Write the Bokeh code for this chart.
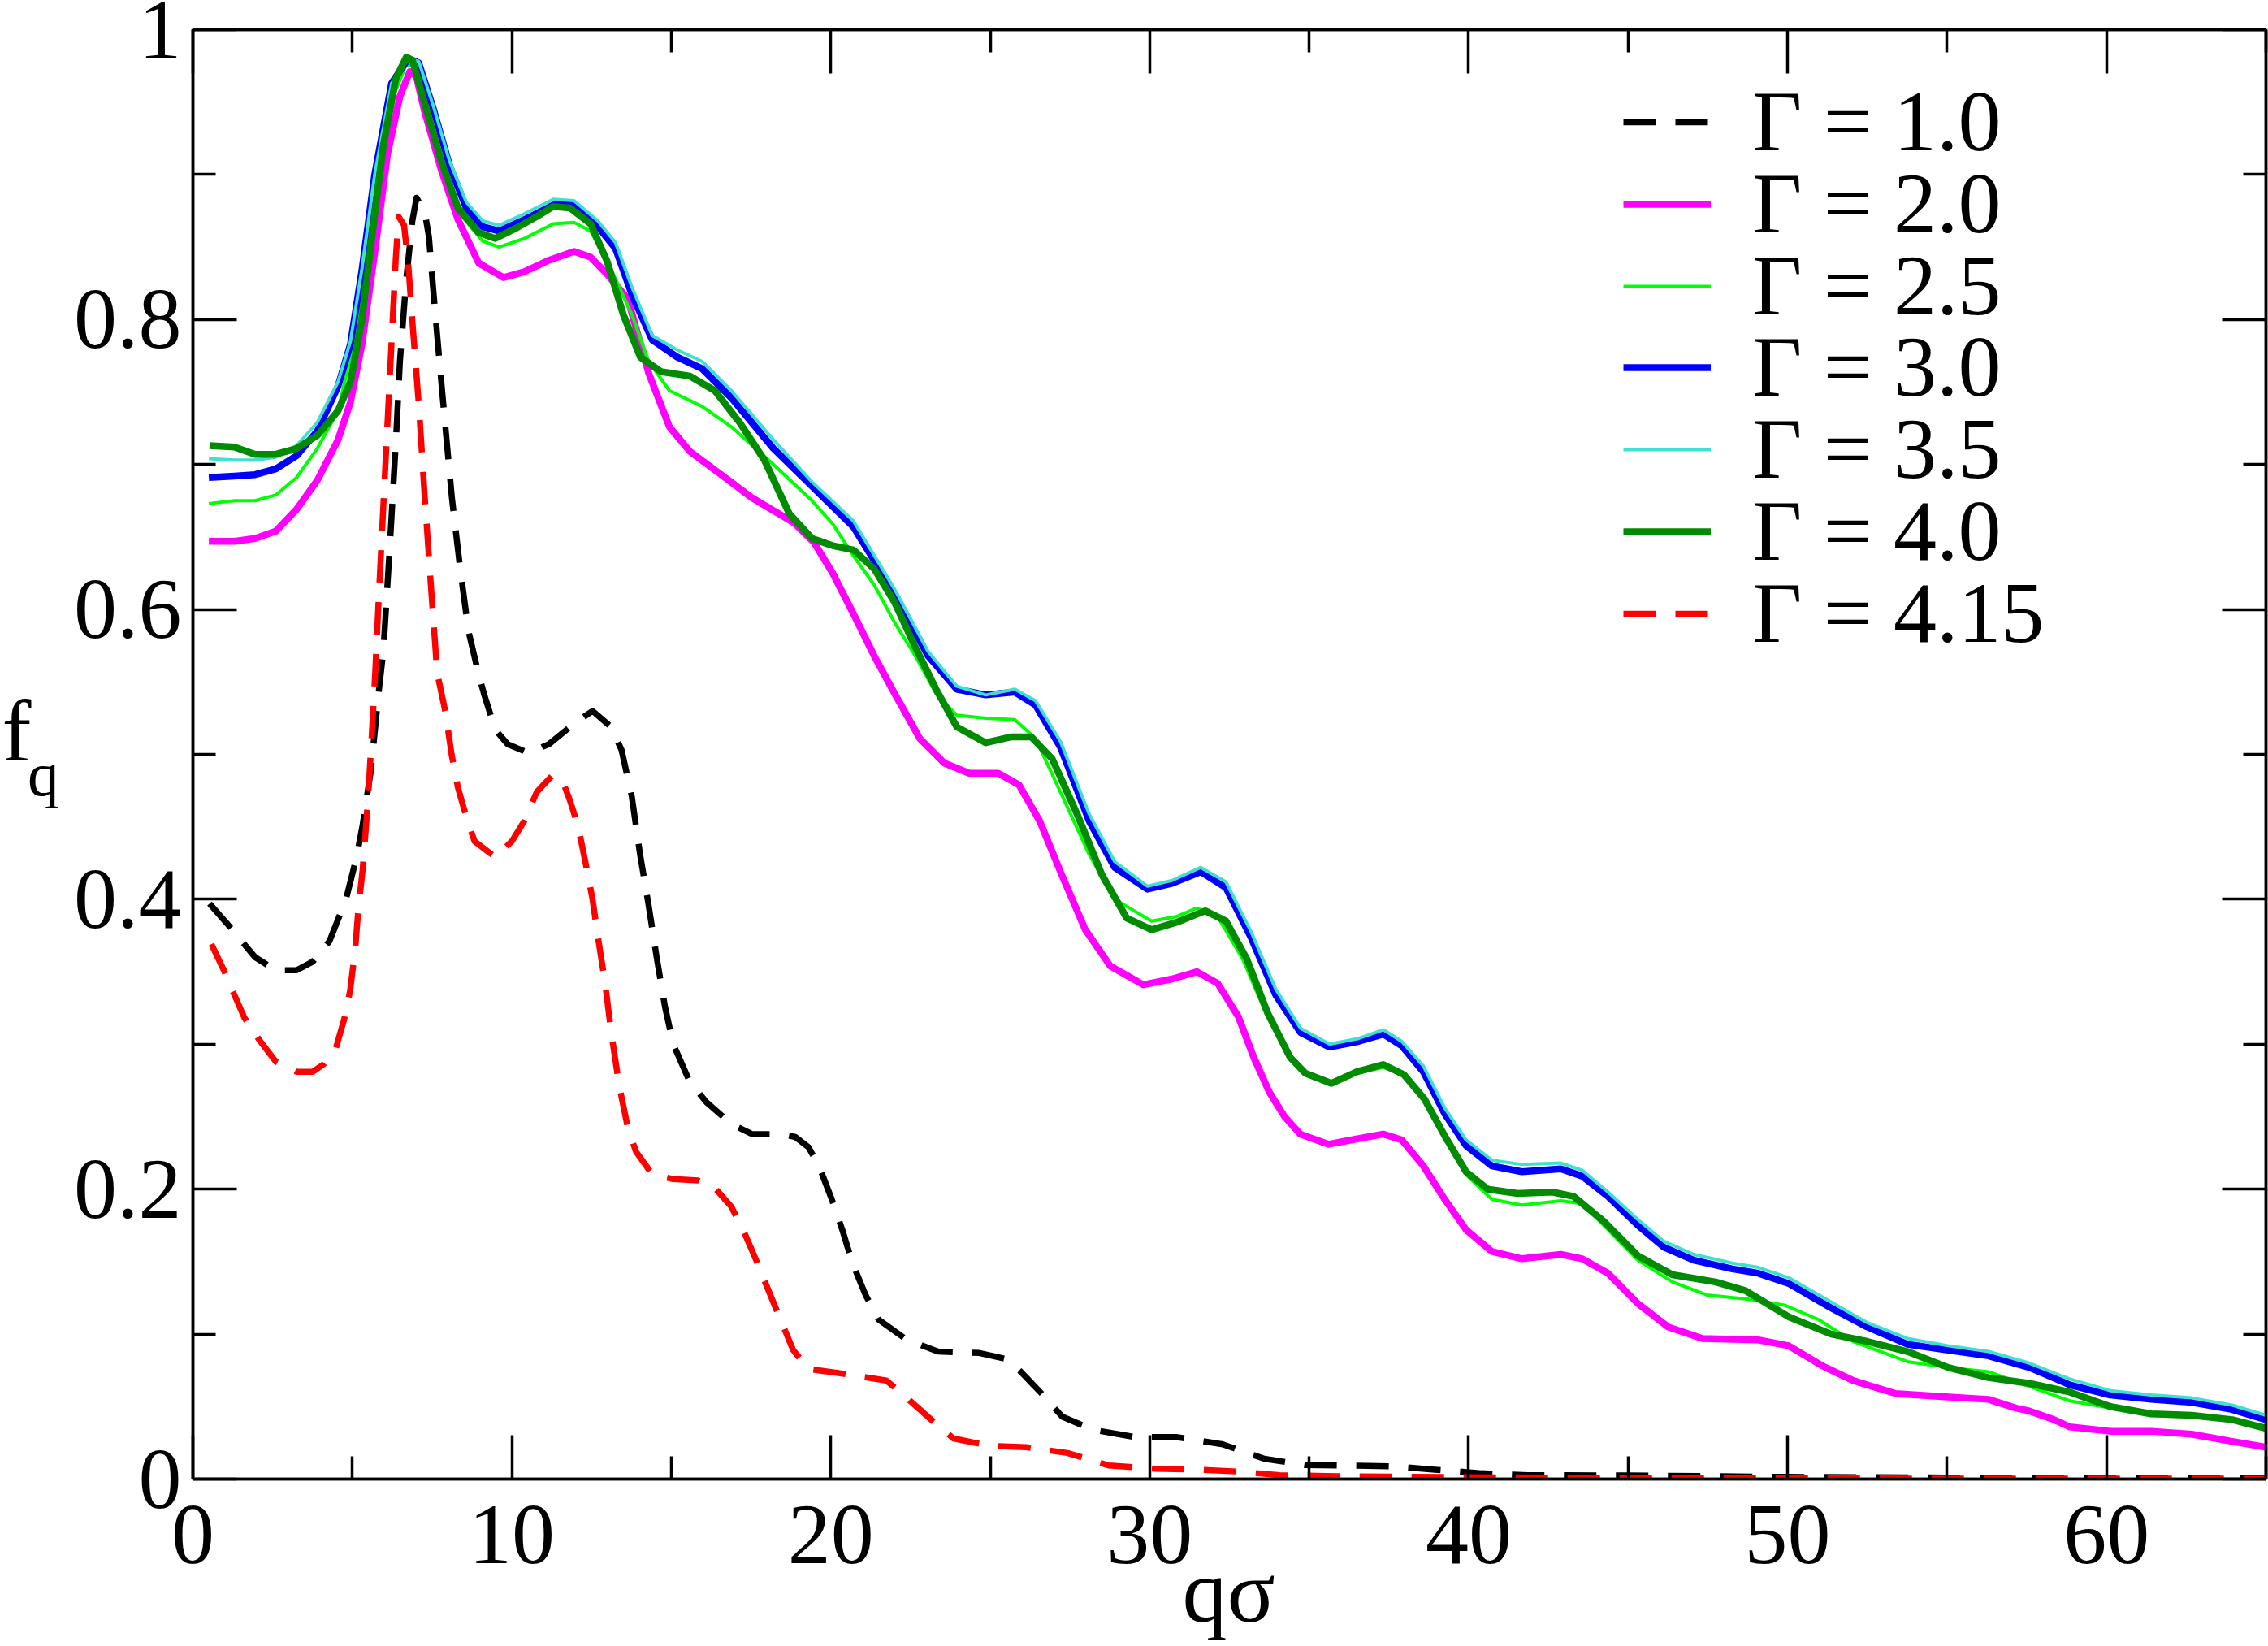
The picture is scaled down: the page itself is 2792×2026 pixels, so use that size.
from bokeh.plotting import figure
from bokeh.models import (Range1d, LinearAxis, FixedTicker, CustomJSTickFormatter,
                          Label, Legend, LegendItem)
from bokeh.embed import file_html
from bokeh.resources import INLINE

# ---------------- data ----------------
q_g10 = [0.52, 1.04, 1.95, 2.6, 3.25, 3.76, 4.28, 4.8, 5.13, 5.32, 5.58, 5.84, 5.97, 6.17, 6.36,
         6.49, 6.69, 6.88, 7.01, 7.27, 7.4, 7.53, 7.73, 7.92, 8.12, 8.38, 8.64, 8.96, 9.15, 9.48,
         9.87, 10.52, 11.16, 11.94, 12.53, 13.11, 13.44, 13.76, 14.02, 14.28, 14.54, 14.8, 15.06,
         15.58, 16.1, 16.88, 17.53, 18.43, 18.89, 19.3, 19.63, 20.03, 20.36, 20.68, 21.09, 21.5,
         22.39, 23.36, 24.66, 25.47, 25.96, 26.61, 27.26, 28.23, 29.53, 30.83, 32.29, 33.59,
         34.88, 36.34, 37.64, 38.94, 40.4, 41.86, 45.0, 50.0, 55.0, 60.0, 65.0]
f_g10 = [0.397, 0.384, 0.36, 0.351, 0.351, 0.357, 0.371, 0.40, 0.429, 0.451, 0.489, 0.546, 0.571,
         0.642, 0.714, 0.771, 0.828, 0.868, 0.884, 0.874, 0.857, 0.822, 0.771, 0.725, 0.677, 0.628,
         0.585, 0.555, 0.54, 0.517, 0.507, 0.501, 0.507, 0.521, 0.53, 0.519, 0.503, 0.471, 0.431,
         0.397, 0.36, 0.326, 0.30, 0.274, 0.26, 0.245, 0.238, 0.238, 0.236, 0.229, 0.216, 0.193,
         0.172, 0.149, 0.127, 0.11, 0.096, 0.088, 0.087, 0.083, 0.074, 0.059, 0.043, 0.034, 0.029,
         0.029, 0.024, 0.014, 0.0097, 0.0093, 0.0088, 0.0065, 0.004, 0.0027, 0.0025, 0.0015,
         0.001, 0.0008, 0.0005]

q_g20 = [0.5, 1.3, 1.95, 2.6, 3.25, 3.9, 4.55, 4.94, 5.3, 5.7, 6.1, 6.49, 6.8, 7.0, 7.27, 7.79,
         8.31, 8.96, 9.74, 10.4, 11.17, 11.95, 12.47, 13.0, 13.64, 14.29, 14.94, 15.58, 16.5,
         17.53, 18.83, 19.48, 20.06, 20.71, 21.36, 22.0, 22.79, 23.56, 24.34, 25.25, 25.9, 26.55,
         27.2, 27.98, 28.76, 29.8, 30.7, 31.48, 32.13, 32.78, 33.26, 33.75, 34.23, 34.72, 35.61,
         36.34, 37.32, 37.9, 38.58, 39.25, 39.92, 40.73, 41.67, 42.89, 43.56, 44.37, 45.31, 46.25,
         47.33, 49.08, 50.03, 51.1, 52.05, 53.39, 54.74, 56.3, 57.16, 57.58, 58.35, 58.85, 60.12,
         61.4, 62.67, 63.94, 65.0]
f_g20 = [0.647, 0.647, 0.649, 0.654, 0.669, 0.689, 0.717, 0.743, 0.783, 0.846, 0.914, 0.954,
         0.971, 0.968, 0.943, 0.903, 0.869, 0.839, 0.829, 0.833, 0.841, 0.847, 0.843, 0.831,
         0.814, 0.763, 0.726, 0.709, 0.694, 0.677, 0.66, 0.646, 0.625, 0.597, 0.568, 0.542,
         0.511, 0.494, 0.487, 0.487, 0.479, 0.454, 0.419, 0.379, 0.354, 0.341, 0.345, 0.35, 0.342,
         0.319, 0.291, 0.267, 0.25, 0.238, 0.231, 0.234, 0.238, 0.234, 0.216, 0.193, 0.172, 0.157,
         0.152, 0.155, 0.152, 0.142, 0.121, 0.105, 0.097, 0.096, 0.092, 0.078, 0.068, 0.059,
         0.057, 0.055, 0.049, 0.047, 0.041, 0.036, 0.033, 0.033, 0.031, 0.026, 0.022]

q_g25 = [0.5, 1.3, 1.95, 2.6, 3.25, 3.9, 4.55, 5.2, 5.7, 6.23, 6.69, 7.0, 7.79, 8.44, 9.09, 9.6,
         10.4, 11.3, 11.95, 12.47, 13.0, 13.77, 14.29, 14.94, 15.97, 16.88, 18.2, 19.41, 20.06,
         20.71, 21.36, 22.0, 22.65, 23.3, 23.95, 24.86, 25.77, 26.42, 27.2, 28.1, 28.9, 30.06,
         30.83, 31.48, 32.13, 32.91, 33.69, 34.4, 34.88, 35.7, 36.5, 37.32, 37.97, 38.62, 39.27,
         39.92, 40.73, 41.67, 42.89, 43.56, 44.37, 45.31, 46.39, 47.47, 48.81, 49.9, 50.97, 52.05,
         53.76, 55.03, 56.3, 57.58, 58.85, 60.12, 61.4, 62.67, 63.94, 65.0]
f_g25 = [0.673, 0.675, 0.675, 0.679, 0.691, 0.711, 0.737, 0.80, 0.88, 0.951, 0.976, 0.974, 0.909,
         0.871, 0.854, 0.85, 0.856, 0.866, 0.867, 0.861, 0.84, 0.803, 0.771, 0.751, 0.74, 0.726,
         0.70, 0.675, 0.659, 0.637, 0.617, 0.591, 0.568, 0.542, 0.527, 0.525, 0.524, 0.511, 0.474,
         0.431, 0.40, 0.385, 0.388, 0.394, 0.388, 0.359, 0.319, 0.29, 0.279, 0.272, 0.28, 0.284,
         0.279, 0.262, 0.235, 0.21, 0.193, 0.189, 0.192, 0.19, 0.172, 0.151, 0.136, 0.127, 0.124,
         0.12, 0.11, 0.095, 0.081, 0.077, 0.074, 0.064, 0.054, 0.049, 0.046, 0.045, 0.04, 0.035]

q_g30 = [0.5, 1.3, 1.95, 2.6, 3.25, 3.9, 4.55, 4.94, 5.3, 5.7, 6.23, 6.75, 7.08, 7.53, 8.05, 8.57,
         9.09, 9.6, 10.4, 11.3, 11.95, 12.7, 13.25, 13.77, 14.4, 15.19, 15.97, 16.88, 18.2, 19.41,
         20.71, 22.0, 23.05, 23.95, 24.86, 25.77, 26.42, 27.2, 28.1, 28.9, 29.93, 30.7, 31.6,
         32.39, 33.17, 33.95, 34.73, 35.64, 36.55, 37.33, 37.9, 38.58, 39.25, 39.92, 40.73, 41.67,
         42.89, 43.56, 44.37, 45.31, 46.12, 47.06, 48.27, 49.08, 50.03, 51.37, 52.49, 53.76,
         55.03, 56.3, 57.58, 58.85, 60.12, 61.4, 62.67, 63.94, 65.0]
f_g30 = [0.691, 0.692, 0.693, 0.697, 0.706, 0.723, 0.754, 0.783, 0.834, 0.90, 0.963, 0.98, 0.977,
         0.946, 0.906, 0.877, 0.864, 0.861, 0.869, 0.879, 0.879, 0.864, 0.849, 0.817, 0.786,
         0.774, 0.766, 0.746, 0.711, 0.685, 0.657, 0.611, 0.568, 0.545, 0.541, 0.543, 0.534,
         0.505, 0.454, 0.422, 0.407, 0.411, 0.419, 0.408, 0.374, 0.334, 0.308, 0.298, 0.302,
         0.307, 0.299, 0.281, 0.252, 0.23, 0.216, 0.212, 0.214, 0.209, 0.195, 0.175, 0.16, 0.151,
         0.145, 0.142, 0.135, 0.118, 0.105, 0.093, 0.089, 0.085, 0.077, 0.065, 0.058, 0.055,
         0.053, 0.048, 0.041]

q_g35 = [0.5, 1.3, 1.95, 2.6, 3.25, 3.9, 4.55, 4.94, 5.3, 5.7, 6.23, 6.75, 7.08, 7.53, 8.05, 8.57,
         9.09, 9.6, 10.4, 11.3, 11.95, 12.7, 13.25, 13.77, 14.4, 15.19, 15.97, 16.88, 18.2, 19.41,
         20.71, 22.0, 23.05, 23.95, 24.86, 25.77, 26.42, 27.2, 28.1, 28.9, 29.93, 30.7, 31.6,
         32.39, 33.17, 33.95, 34.73, 35.64, 36.55, 37.33, 37.9, 38.58, 39.25, 39.92, 40.73, 41.67,
         42.89, 43.56, 44.37, 45.31, 46.12, 47.06, 48.27, 49.08, 50.03, 51.37, 52.49, 53.76,
         55.03, 56.3, 57.58, 58.85, 60.12, 61.4, 62.67, 63.94, 65.0]
f_g35 = [0.704, 0.703, 0.703, 0.705, 0.713, 0.729, 0.757, 0.785, 0.835, 0.90, 0.963, 0.98, 0.978,
         0.948, 0.909, 0.881, 0.868, 0.865, 0.873, 0.883, 0.882, 0.868, 0.853, 0.822, 0.789,
         0.779, 0.771, 0.751, 0.717, 0.688, 0.661, 0.614, 0.571, 0.547, 0.541, 0.545, 0.537,
         0.509, 0.459, 0.426, 0.409, 0.413, 0.422, 0.412, 0.378, 0.338, 0.311, 0.30, 0.304, 0.31,
         0.302, 0.285, 0.256, 0.234, 0.22, 0.217, 0.218, 0.213, 0.198, 0.179, 0.164, 0.155, 0.149,
         0.146, 0.139, 0.122, 0.108, 0.097, 0.092, 0.088, 0.08, 0.069, 0.061, 0.058, 0.056, 0.051,
         0.044]

q_g40 = [0.52, 1.3, 1.95, 2.6, 3.25, 3.9, 4.55, 4.94, 5.3, 5.58, 5.97, 6.36, 6.69, 6.88, 7.27,
         7.79, 8.31, 8.96, 9.48, 10.13, 10.78, 11.3, 11.82, 12.47, 12.99, 13.5, 14.03, 14.68,
         15.58, 16.36, 17.14, 17.92, 18.7, 19.41, 20.06, 20.71, 21.36, 22.0, 22.65, 23.3, 23.95,
         24.86, 25.64, 26.29, 26.94, 27.72, 28.5, 29.28, 30.06, 30.83, 31.74, 32.39, 33.04, 33.69,
         34.4, 34.88, 35.7, 36.5, 37.32, 37.97, 38.62, 39.27, 39.92, 40.6, 41.54, 42.62, 43.29,
         44.23, 45.31, 46.39, 47.74, 48.68, 50.03, 51.37, 52.49, 53.76, 55.03, 56.3, 57.58, 58.85,
         60.12, 61.4, 62.67, 63.94, 65.0]
f_g40 = [0.713, 0.712, 0.707, 0.707, 0.711, 0.72, 0.737, 0.757, 0.80, 0.851, 0.92, 0.966, 0.981,
         0.979, 0.949, 0.909, 0.877, 0.86, 0.856, 0.863, 0.871, 0.878, 0.877, 0.866, 0.84, 0.803,
         0.774, 0.764, 0.761, 0.751, 0.729, 0.703, 0.666, 0.649, 0.644, 0.641, 0.628, 0.605,
         0.574, 0.545, 0.519, 0.508, 0.512, 0.512, 0.497, 0.459, 0.417, 0.387, 0.379, 0.384,
         0.392, 0.385, 0.359, 0.322, 0.291, 0.28, 0.273, 0.281, 0.286, 0.279, 0.262, 0.236,
         0.212, 0.20, 0.197, 0.198, 0.195, 0.178, 0.154, 0.141, 0.136, 0.13, 0.112, 0.10, 0.095,
         0.088, 0.077, 0.07, 0.066, 0.06, 0.05, 0.045, 0.044, 0.041, 0.035]

q_g415 = [0.58, 0.97, 1.3, 1.62, 2.08, 2.6, 3.25, 3.76, 4.09, 4.48, 4.74, 4.93, 5.09, 5.19, 5.32,
          5.43, 5.52, 5.61, 5.71, 5.84, 5.97, 6.1, 6.23, 6.36, 6.45, 6.62, 6.75, 6.88, 7.08, 7.27,
          7.47, 7.66, 7.92, 8.11, 8.31, 8.57, 8.83, 9.48, 10.0, 10.39, 10.78, 11.29, 11.62, 11.81,
          12.07, 12.33, 12.53, 12.72, 12.92, 13.11, 13.37, 13.63, 13.89, 14.41, 15.06, 15.84,
          16.36, 16.88, 17.27, 17.66, 17.92, 18.33, 18.82, 19.3, 20.6, 21.74, 22.23, 23.2, 23.85,
          24.98, 26.12, 27.42, 28.71, 30.18, 31.48, 32.77, 34.07, 35.53, 40.0, 45.0, 50.0, 55.0,
          65.0]
f_g415 = [0.369, 0.351, 0.334, 0.318, 0.303, 0.288, 0.281, 0.281, 0.286, 0.297, 0.317, 0.337,
          0.366, 0.394, 0.42, 0.451, 0.48, 0.514, 0.554, 0.614, 0.671, 0.728, 0.785, 0.842, 0.871,
          0.865, 0.839, 0.799, 0.742, 0.677, 0.614, 0.556, 0.529, 0.50, 0.477, 0.457, 0.44, 0.429,
          0.44, 0.454, 0.474, 0.486, 0.48, 0.469, 0.451, 0.423, 0.40, 0.371, 0.343, 0.309, 0.271,
          0.243, 0.226, 0.21, 0.207, 0.206, 0.201, 0.188, 0.171, 0.151, 0.137, 0.115, 0.089,
          0.076, 0.072, 0.068, 0.059, 0.04, 0.028, 0.023, 0.022, 0.018, 0.0094, 0.0071, 0.0065,
          0.0052, 0.0027, 0.0021, 0.0012, 0.0008, 0.0005, 0.0003, 0.0002]

series_labels = ["Γ = 1.0", "Γ = 2.0", "Γ = 2.5", "Γ = 3.0", "Γ = 3.5", "Γ = 4.0", "Γ = 4.15"]
x_ticks = [0, 10, 20, 30, 40, 50, 60]
x_minor = [5, 15, 25, 35, 45, 55, 65]
y_ticks = [0, 0.2, 0.4, 0.6, 0.8, 1.0]
y_minor = [0.1, 0.3, 0.5, 0.7, 0.9]

# ---------------- figure ----------------
FONT = "Liberation Serif"
p = figure(width=2792, height=2026, x_range=Range1d(0, 65), y_range=Range1d(0, 1),
           output_backend="svg", toolbar_location=None,
           min_border_left=237, min_border_right=3, min_border_top=36, min_border_bottom=206)
p.xgrid.visible = False
p.ygrid.visible = False
p.outline_line_color = "black"
p.outline_line_width = 3.5
p.background_fill_color = "white"
p.border_fill_color = "white"


def style_axis(ax, ticks, minor, labels=True):
    ax.ticker = FixedTicker(ticks=ticks, minor_ticks=minor)
    ax.axis_line_width = 3.5
    ax.axis_line_color = "black"
    ax.major_tick_in = 54
    ax.major_tick_out = 0
    ax.minor_tick_in = 28
    ax.minor_tick_out = 0
    ax.major_tick_line_width = 3.5
    ax.minor_tick_line_width = 3.5
    ax.major_label_text_font = FONT
    ax.major_label_text_font_size = "106px"
    ax.major_label_text_color = "black"
    if not labels:
        ax.formatter = CustomJSTickFormatter(code="return '';")
        ax.major_label_standoff = 0


xa = p.xaxis[0]
style_axis(xa, x_ticks, x_minor)
xa.major_label_standoff = 33
# a blank, tiny axis title pulled back over the tick labels keeps the axis slot small,
# so the frame keeps its size; the visible title is the label below.
xa.axis_label = " "
xa.axis_label_text_font_size = "8px"
xa.axis_label_standoff = -150

ya = p.yaxis[0]
style_axis(ya, y_ticks, y_minor)
ya.major_label_standoff = 14
ya.formatter = CustomJSTickFormatter(code="return String(Math.round(tick*10)/10);")

top_ax = LinearAxis()
style_axis(top_ax, x_ticks, x_minor, labels=False)
p.add_layout(top_ax, "above")
right_ax = LinearAxis()
style_axis(right_ax, y_ticks, y_minor, labels=False)
p.add_layout(right_ax, "right")

# ---------------- curves ----------------
specs = [
    (q_g10, f_g10, "black", 7.5, "40 24"),
    (q_g20, f_g20, "#ff00ff", 8.5, "solid"),
    (q_g25, f_g25, "#00ff00", 4, "solid"),
    (q_g30, f_g30, "#0000ff", 8.5, "solid"),
    (q_g35, f_g35, "#40e0d0", 4, "solid"),
    (q_g40, f_g40, "#008b00", 8.5, "solid"),
    (q_g415, f_g415, "#ff0000", 7.5, "40 24"),
]
renderers = []
for qs, fs, col, lw, dash in specs:
    renderers.append(p.line(qs, fs, line_color=col, line_width=lw, line_dash=dash,
                            line_join="round"))

# one single-entry legend per series so that the row pitch matches the reference
LEG_X = 1761
LEG_Y0 = 1609
LEG_PITCH = 100.8
for i, (r, lab) in enumerate(zip(renderers, series_labels)):
    leg = Legend(items=[LegendItem(label=lab, renderers=[r])],
                 location=(LEG_X, int(round(LEG_Y0 - LEG_PITCH * i))),
                 border_line_color=None, background_fill_alpha=0, padding=0, margin=0,
                 spacing=0, glyph_width=108, glyph_height=20, label_height=20,
                 label_standoff=51, label_text_font=FONT, label_text_font_size="106px",
                 label_text_color="black")
    p.add_layout(leg)

# ---------------- axis titles (side panels, so they are not clipped by the frame) ----------------
p.add_layout(Label(x=-5.53, y=0.5163, text="f", text_font=FONT, text_font_size="108px",
                   text_color="black", text_baseline="middle", text_align="center"), "left")
p.add_layout(Label(x=-4.69, y=0.4865, text="q", text_font=FONT, text_font_size="77px",
                   text_color="black", text_baseline="middle", text_align="center"), "left")
p.add_layout(Label(x=32.48, y=-0.0779, text="qσ", text_font=FONT, text_font_size="110px",
                   text_color="black", text_baseline="middle", text_align="center"), "below")

open("out.html", "w").write(file_html(p, INLINE))
